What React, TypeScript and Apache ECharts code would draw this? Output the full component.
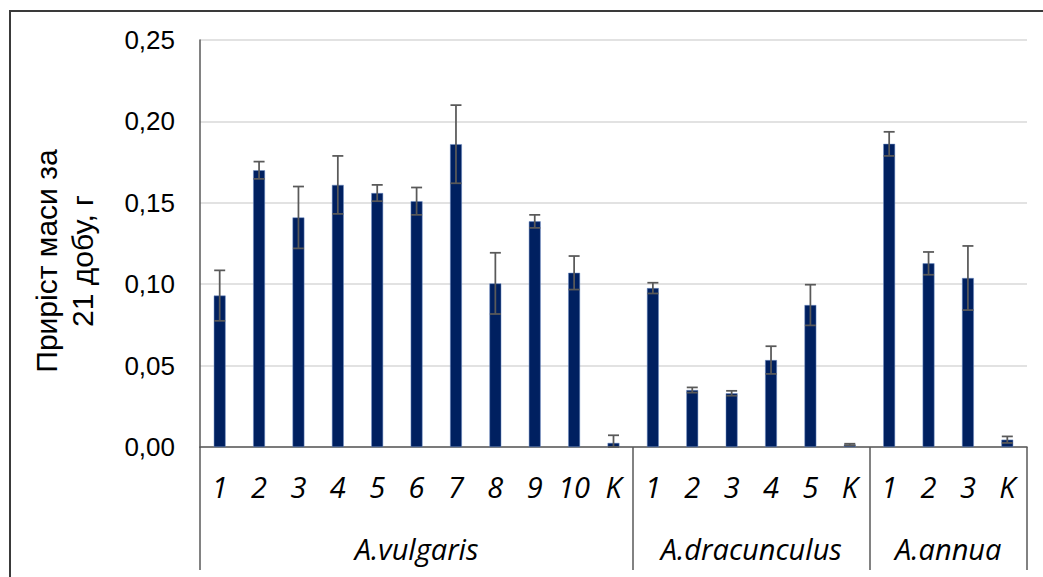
import React, { useEffect, useRef } from "react";
import * as echarts from "echarts";

const categories = ["1", "2", "3", "4", "5", "6", "7", "8", "9", "10", "K", "1", "2", "3", "4", "5", "K", "1", "2", "3", "K"];
const groupNames = ["A.vulgaris", "A.dracunculus", "A.annua"];
const groupSizes = [11, 6, 4];
const values = [
  0.093, 0.170, 0.141, 0.161, 0.156, 0.151, 0.186, 0.1005, 0.1386, 0.107, 0.0025,
  0.0976, 0.035, 0.033, 0.0534, 0.0872, 0.0015,
  0.1862, 0.1128, 0.1038, 0.0045,
];
const errors = [
  0.0155, 0.0053, 0.019, 0.0178, 0.005, 0.0084, 0.024, 0.0188, 0.004, 0.0103, 0.0047,
  0.0033, 0.0016, 0.0015, 0.0085, 0.0125, 0.0005,
  0.0074, 0.007, 0.0197, 0.002,
];
const yTicks = [0, 0.05, 0.1, 0.15, 0.2, 0.25];
const yTitle = "Приріст маси за\n21 добу, г";

export default function App() {
  const ref = useRef<HTMLDivElement>(null);
  useEffect(() => {
    if (!ref.current) return;
    const chart = echarts.init(ref.current, null, { renderer: "svg" });

    const bounds: number[] = [0];
    groupSizes.forEach((s) => bounds.push(bounds[bounds.length - 1] + s));
    const centers = groupSizes.map((s, i) => bounds[i] + s / 2);
    const total = bounds[bounds.length - 1];

    const errData = values.map((v, i) => [i, Math.max(0, v - errors[i]), v + errors[i]]);
    const axisGray = "#595959";

    chart.setOption({
      animation: false,
      grid: { left: 200, right: 16, top: 40, bottom: 130, containLabel: false },
      xAxis: [
        {
          type: "category",
          data: categories,
          position: "bottom",
          axisLine: { show: true, lineStyle: { color: axisGray, width: 1.5 } },
          axisTick: { show: false },
          axisLabel: {
            interval: 0,
            margin: 25,
            fontSize: 29,
            fontStyle: "italic",
            fontFamily: "Open Sans",
            color: "#000",
          },
          splitLine: { show: false },
        },
        {
          type: "value",
          min: 0,
          max: total,
          position: "bottom",
          axisLine: { show: false },
          axisTick: {
            show: true,
            customValues: bounds,
            length: 123,
            lineStyle: { color: axisGray, width: 1.5 },
          },
          axisLabel: {
            customValues: centers,
            margin: 87,
            fontSize: 29,
            fontStyle: "italic",
            fontFamily: "Open Sans",
            color: "#000",
            formatter: (v: number) => {
              const idx = centers.findIndex((c) => Math.abs(c - v) < 1e-6);
              return idx >= 0 ? groupNames[idx] : "";
            },
          },
          splitLine: { show: false },
        },
      ],
      yAxis: {
        type: "value",
        min: yTicks[0],
        max: yTicks[yTicks.length - 1],
        interval: yTicks[1] - yTicks[0],
        axisLine: { show: true, lineStyle: { color: axisGray, width: 1.5 } },
        axisTick: { show: false },
        axisLabel: {
          margin: 25,
          fontSize: 26,
          fontFamily: "Liberation Sans",
          color: "#000",
          formatter: (v: number) => v.toFixed(2).replace(".", ","),
        },
        splitLine: { show: true, lineStyle: { color: "#d9d9d9", width: 1.5 } },
      },
      graphic: [
        {
          type: "rect",
          shape: { x: 10, y: 11, width: 1200, height: 700 },
          style: { fill: "none", stroke: "#3a3a3a", lineWidth: 2 },
          silent: true,
        },
        {
          type: "text",
          x: 64,
          y: 261,
          rotation: Math.PI / 2,
          style: {
            text: yTitle,
            fontSize: 30,
            fontFamily: "Liberation Sans",
            lineHeight: 36,
            fill: "#000",
            align: "center",
            verticalAlign: "middle",
          },
        },
      ],
      series: [
        {
          type: "bar",
          xAxisIndex: 0,
          yAxisIndex: 0,
          data: values,
          barWidth: "30%",
          itemStyle: { color: "#002060", borderColor: "#6f8fc7", borderWidth: 0.5 },
          z: 2,
        },
        {
          type: "custom",
          xAxisIndex: 0,
          yAxisIndex: 0,
          data: errData,
          encode: { x: 0, y: [1, 2] },
          z: 3,
          renderItem: (params: any, api: any) => {
            const i = api.value(0);
            const lo = api.coord([i, api.value(1)]);
            const hi = api.coord([i, api.value(2)]);
            const half = 5.5;
            const style = { stroke: "#595959", lineWidth: 1.75 };
            return {
              type: "group",
              children: [
                { type: "line", shape: { x1: hi[0], y1: hi[1], x2: lo[0], y2: lo[1] }, style },
                { type: "line", shape: { x1: hi[0] - half, y1: hi[1], x2: hi[0] + half, y2: hi[1] }, style },
                { type: "line", shape: { x1: lo[0] - half, y1: lo[1], x2: lo[0] + half, y2: lo[1] }, style },
              ],
            };
          },
        },
      ],
    });
    return () => chart.dispose();
  }, []);
  return (
    <div
      ref={ref}
      style={{ position: "fixed", left: 0, top: 0, width: 1043, height: 577, background: "#fff" }}
    />
  );
}
